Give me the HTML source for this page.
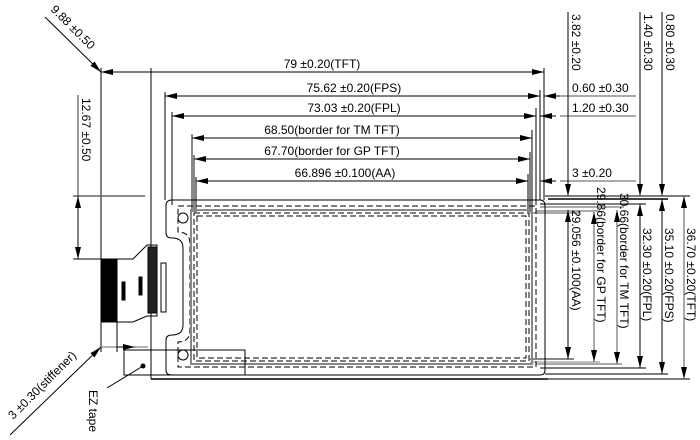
<!DOCTYPE html>
<html><head><style>body{margin:0;background:#fff}svg{display:block}text{font-family:"Liberation Sans",Arial,sans-serif;font-size:12px;fill:#000}</style></head><body>
<svg width="700" height="440" viewBox="0 0 700 440" xmlns="http://www.w3.org/2000/svg">
<defs>
<marker id="a" viewBox="0 0 12 6" refX="12" refY="3" markerWidth="12" markerHeight="6" orient="auto-start-reverse" markerUnits="userSpaceOnUse"><path d="M0,0L12,3L0,6z" fill="#000"/></marker>
</defs>
<g stroke="#000" stroke-width="1" fill="none">
<!-- extension verticals -->
<line x1="101" y1="68" x2="101" y2="352"/>
<line x1="151" y1="68" x2="151" y2="379"/>
<line x1="165" y1="92" x2="165" y2="200"/>
<line x1="172" y1="112" x2="172" y2="205"/>
<line x1="192" y1="134" x2="192" y2="212" stroke="#888" stroke-width="2"/>
<line x1="194" y1="155" x2="194" y2="212" stroke="#888" stroke-width="2"/>
<line x1="196" y1="177" x2="196" y2="212"/>
<line x1="544" y1="68" x2="544" y2="200"/>
<line x1="540" y1="90" x2="540" y2="200"/>
<line x1="536" y1="108" x2="536" y2="205"/>
<line x1="532" y1="130" x2="532" y2="212"/>
<line x1="530" y1="152" x2="530" y2="212"/>
<line x1="528" y1="174" x2="528" y2="212"/>
<!-- horizontal dims -->
<line x1="101" y1="72" x2="544" y2="72" marker-start="url(#a)" marker-end="url(#a)"/>
<line x1="165" y1="96" x2="540" y2="96" marker-start="url(#a)" marker-end="url(#a)"/>
<line x1="172" y1="116" x2="536" y2="116" marker-start="url(#a)" marker-end="url(#a)"/>
<line x1="192" y1="138" x2="532" y2="138" marker-start="url(#a)" marker-end="url(#a)"/>
<line x1="194" y1="159" x2="530" y2="159" marker-start="url(#a)" marker-end="url(#a)"/>
<line x1="196" y1="181" x2="528" y2="181" marker-start="url(#a)" marker-end="url(#a)"/>
<!-- right small dims -->
<line x1="560" y1="96" x2="636" y2="96" stroke="#555"/>
<line x1="560" y1="96" x2="544" y2="96" marker-end="url(#a)"/>
<line x1="560" y1="116" x2="636" y2="116" stroke="#555"/>
<line x1="556" y1="116" x2="540" y2="116" marker-end="url(#a)"/>
<line x1="560" y1="181" x2="636" y2="181" stroke="#555"/>
<line x1="556" y1="181" x2="540" y2="181" marker-end="url(#a)"/>
<line x1="568" y1="12" x2="568" y2="196" marker-end="url(#a)"/>
<line x1="640" y1="12" x2="640" y2="196" marker-end="url(#a)"/>
<line x1="662" y1="12" x2="662" y2="196" marker-end="url(#a)"/>
<!-- right horizontal extension lines -->
<line x1="545" y1="196" x2="690" y2="196" stroke="#555" stroke-width="1.5"/>
<line x1="548" y1="199" x2="668" y2="199" stroke-width="1.5"/>
<line x1="540" y1="204" x2="646" y2="204"/>
<line x1="540" y1="207" x2="624" y2="207" stroke="#555"/>
<line x1="536" y1="211" x2="600" y2="211" stroke="#555"/>
<line x1="530" y1="213" x2="580" y2="213" stroke="#555"/>
<line x1="530" y1="359" x2="574" y2="359" stroke="#888" stroke-width="2"/>
<line x1="530" y1="362" x2="600" y2="362" stroke="#888"/>
<line x1="536" y1="364" x2="622" y2="364" stroke="#555"/>
<line x1="540" y1="368" x2="646" y2="368" stroke="#555" stroke-width="1.5"/>
<line x1="545" y1="374" x2="668" y2="374" stroke="#555" stroke-width="1.5"/>
<line x1="548" y1="379" x2="690" y2="379" stroke="#555" stroke-width="1.5"/>
<!-- right vertical dims -->
<line x1="568" y1="210" x2="568" y2="359" marker-start="url(#a)" marker-end="url(#a)"/>
<line x1="594" y1="212" x2="594" y2="362" stroke="#555" marker-start="url(#a)" marker-end="url(#a)"/>
<line x1="617" y1="210" x2="617" y2="364" stroke="#555" marker-start="url(#a)" marker-end="url(#a)"/>
<line x1="640" y1="204" x2="640" y2="368" marker-start="url(#a)" marker-end="url(#a)"/>
<line x1="662" y1="199" x2="662" y2="374" marker-start="url(#a)" marker-end="url(#a)"/>
<line x1="684" y1="196" x2="684" y2="379" stroke="#555" marker-start="url(#a)" marker-end="url(#a)"/>
<!-- left dims -->
<line x1="73" y1="196" x2="145" y2="196" stroke="#666" stroke-width="1.5"/>
<line x1="73" y1="259" x2="101" y2="259"/>
<line x1="78" y1="95" x2="78" y2="196" stroke="#333"/>
<line x1="78" y1="259" x2="78" y2="196" marker-end="url(#a)" marker-start="url(#a)"/>
<line x1="45" y1="17" x2="101" y2="72" marker-end="url(#a)"/>
<line x1="10" y1="435" x2="101" y2="347" marker-end="url(#a)"/>
<line x1="101" y1="347" x2="148" y2="347" stroke="#666"/>
<line x1="117" y1="322" x2="117" y2="352"/>
<line x1="117" y1="347" x2="135" y2="347" marker-end="url(#a)"/>
<!-- panel -->
<path d="M172,200 H540 Q545,200 545,206 V370 Q545,375 540,375 H172 Q166,375 166,370 V340 Q166,335 172,335 Q183,335 183,325 V248 Q183,238 172,238 Q166,238 166,233 V206 Q166,200 172,200 Z"/>
<line x1="151" y1="379" x2="548" y2="379" stroke-width="1.5"/>
<path d="M178,206 H536 V367 H178 V342 Q190,342 190,330 V244 Q190,232 178,232 Z" stroke-dasharray="6,3"/>
<rect x="191" y="210" width="341" height="154" stroke="#888" stroke-width="2"/>
<rect x="194" y="213" width="335" height="148" stroke-dasharray="6,3"/>
<rect x="197" y="216" width="329" height="142" stroke-dasharray="6,3"/>
<circle cx="183" cy="218" r="5"/>
<circle cx="183" cy="355" r="5"/>
<rect x="124" y="350" width="121" height="25"/>
<line x1="143" y1="366" x2="107" y2="388"/>
<!-- FPC -->
<rect x="101" y="259" width="16" height="63" fill="#000"/>
<path d="M117,259 H133 L147,245 H157 V316 H147 L133,322 H117 Z"/>
<rect x="148" y="247" width="9" height="66" fill="#222"/>
<rect x="161" y="263" width="5" height="49"/>
<rect x="122" y="282" width="3" height="18" fill="#000"/>
<rect x="139" y="277" width="3" height="18" fill="#000"/>
</g>
<circle cx="143" cy="366" r="2.5" fill="#000"/>
<g text-anchor="middle">
<text x="322" y="68">79 ±0.20(TFT)</text>
<text x="354" y="92">75.62 ±0.20(FPS)</text>
<text x="354" y="112">73.03 ±0.20(FPL)</text>
<text x="332" y="134">68.50(border for TM TFT)</text>
<text x="332" y="155">67.70(border for GP TFT)</text>
<text x="345" y="177">66.896 ±0.100(AA)</text>
</g>
<text x="572" y="92">0.60 ±0.30</text>
<text x="572" y="112">1.20 ±0.30</text>
<text x="572" y="177">3 ±0.20</text>
<g>
<text transform="translate(572,14) rotate(90)">3.82 ±0.20</text>
<text transform="translate(644,14) rotate(90)">1.40 ±0.30</text>
<text transform="translate(666,14) rotate(90)">0.80 ±0.30</text>
<text transform="translate(82,98) rotate(90)">12.67 ±0.50</text>
<text transform="translate(572,210) rotate(90)">29.056 ±0.100(AA)</text>
<text transform="translate(597,187) rotate(90)">29.86(border for GP TFT)</text>
<text transform="translate(620,193) rotate(90)">30.66(border for TM TFT)</text>
<text transform="translate(643,228) rotate(90)">32.30 ±0.20(FPL)</text>
<text transform="translate(665,228) rotate(90)">35.10 ±0.20(FPS)</text>
<text transform="translate(687,228) rotate(90)">36.70 ±0.20(TFT)</text>
<text transform="translate(50,10) rotate(45)">9.88 ±0.50</text>
<text transform="translate(13,420) rotate(-45)">3 ±0.30(stiffener)</text>
<text transform="translate(89,390) rotate(90)">EZ tape</text>
</g>
</svg>
</body></html>
